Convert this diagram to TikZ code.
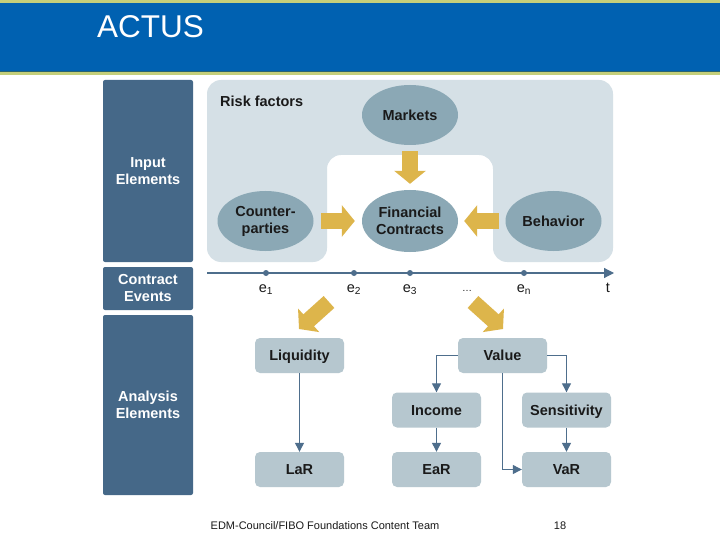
\documentclass[tikz,border=0pt]{standalone}
\usepackage{fontspec}
\setmainfont{Liberation Sans}
\usetikzlibrary{shapes.geometric,arrows.meta}

\definecolor{barblue}{HTML}{0061B1}
\definecolor{barline}{HTML}{C5CF7A}
\definecolor{barshade}{HTML}{2A6470}
\definecolor{slate}{HTML}{456888}
\definecolor{panel}{HTML}{D5E0E6}
\definecolor{oval}{HTML}{8BA8B5}
\definecolor{gold}{HTML}{DDB54B}
\definecolor{boxfill}{HTML}{B6C7CF}
\definecolor{flow}{HTML}{4E6E8C}
\definecolor{ink}{HTML}{1A1A1A}

\newcommand{\labelfont}{\bfseries\fontsize{14.5}{17}\selectfont}

\tikzset{
  lane/.style={fill=slate,rounded corners=2pt,text=white,font=\labelfont,align=center,inner sep=0,minimum width=90pt},
  riskoval/.style={ellipse,fill=oval,text=ink,font=\labelfont,align=center,inner sep=0,minimum width=96pt,minimum height=60pt},
  resbox/.style={fill=boxfill,rounded corners=5pt,text=ink,font=\labelfont,inner sep=0,text height=10.5pt,text depth=0pt,minimum width=89pt,minimum height=35pt},
  goldarrow/.style={draw=gold,line width=16pt,-{Triangle[length=13pt,width=31pt]}},
  flowarrow/.style={draw=flow,line width=1.2pt,-{Triangle[length=9pt,width=9pt]}},
  evdot/.style={circle,fill=flow,inner sep=0,minimum size=6pt},
  evlabel/.style={anchor=base,inner sep=0,text=ink,font=\fontsize{14.5}{17}\selectfont}
}

\begin{document}
\begin{tikzpicture}[x=1pt,y=-1pt]
\fill[white] (0,0) rectangle (720,540);
\useasboundingbox (0,0) rectangle (720,540);

% Top: title bar
\fill[barline] (0,0) rectangle (720,3);
\fill[barblue] (0,3) rectangle (720,71);
\fill[barshade] (0,71) rectangle (720,72.5);
\fill[barline] (0,72.5) rectangle (720,75);
\node[anchor=west,inner sep=0,text=white,font=\fontsize{31.5}{36}\selectfont] (title) at (97,27) {ACTUS};

% Left: the three lanes
\node[lane,minimum height=182pt] (input) at (148,171) {Input\\Elements};
\node[lane,minimum height=43pt] (events) at (148,288.5) {Contract\\Events};
\node[lane,minimum height=180pt] (analysis) at (148,405) {Analysis\\Elements};

% Input elements: risk factor panel
\fill[panel,rounded corners=14pt] (207,80) -- (613,80) -- (613,262) -- (493,262) -- (493,155) -- (327,155) -- (327,262) -- (207,262) -- cycle;
\node[anchor=base west,inner sep=0,text=ink,font=\labelfont] (riskf) at (220,107) {Risk factors};
\node[riskoval] (markets) at (410,115) {Markets};
\node[riskoval] (cparties) at (265.5,221) {Counter-\\parties};
\node[riskoval,minimum height=62pt] (contracts) at (410,221) {Financial\\Contracts};
\node[riskoval] (behavior) at (553.5,221) {Behavior};
\draw[goldarrow,shorten <=6pt,shorten >=6pt] (markets.south) -- (contracts.north);
\draw[goldarrow,shorten <=7.5pt,shorten >=7pt] (cparties.east) -- (contracts.west);
\draw[goldarrow,shorten <=6.5pt,shorten >=6pt] (behavior.west) -- (contracts.east);

% Contract events: time line
\coordinate (tstart) at (207,273);
\coordinate (tend) at (614,273);
\draw[flow,line width=1.2pt,-{Triangle[length=10pt,width=10pt]}] (tstart) -- (tend);
\foreach \x/\n in {266/1,354/2,410/3,524/n}{
  \node[evdot] (e\n) at (\x,273) {};
  \node[evlabel] (lab\n) at (\x,292) {e\textsubscript{\n}};
}
\node[evlabel,font=\fontsize{10}{12}\selectfont] (dots) at (467,291) {\dots};
\node[evlabel] (tlab) at (608,292) {t};
\coordinate (liqtail) at (329,302);
\coordinate (liqtip) at (299,329);
\coordinate (valtail) at (473,302);
\coordinate (valtip) at (503,329);
\draw[goldarrow] (liqtail) -- (liqtip);
\draw[goldarrow] (valtail) -- (valtip);

% Analysis elements
\node[resbox] (liq) at (299.5,355.5) {Liquidity};
\node[resbox] (value) at (502.5,355.5) {Value};
\node[resbox] (income) at (436.5,410) {Income};
\node[resbox] (sens) at (566.5,410) {Sensitivity};
\node[resbox] (lar) at (299.5,469.5) {LaR};
\node[resbox] (ear) at (436.5,469.5) {EaR};
\node[resbox] (var) at (566.5,469.5) {VaR};
\draw[flowarrow] (liq) -- (lar);
\draw[flowarrow] (value.west) -| (income.north);
\draw[flowarrow] (value.east) -| (sens.north);
\draw[flowarrow] (value.south) |- (var.west);
\draw[flowarrow] (income) -- (ear);
\draw[flowarrow] (sens) -- (var);

% Bottom: footer
\node[text=ink,font=\fontsize{11}{13}\selectfont] (footer) at (325,526) {EDM-Council/FIBO Foundations Content Team};
\node[text=ink,font=\fontsize{11}{13}\selectfont] (page) at (560,526) {18};
\end{tikzpicture}
\end{document}
